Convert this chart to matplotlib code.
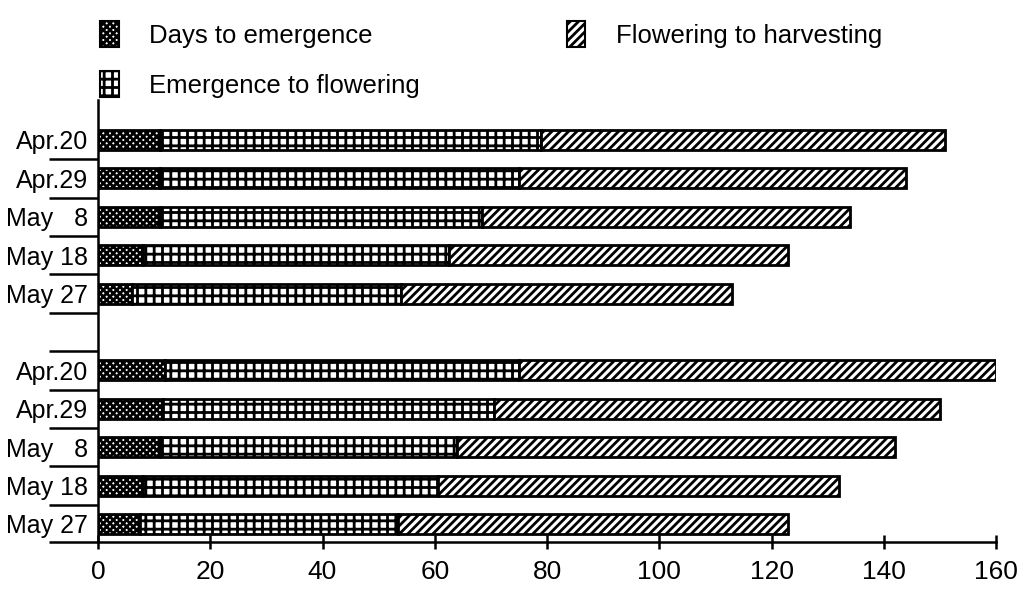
import matplotlib
matplotlib.use("Agg")
import matplotlib.pyplot as plt
from matplotlib.patches import Patch
import numpy as np

# ---- data ----
dates = ["Apr.20", "Apr.29", "May   8", "May 18", "May 27"]
# upper group
emerg_1 = [11, 11, 11, 8, 6]
flower_end_1 = [79, 75, 68.5, 62.5, 54]
total_1 = [151, 144, 134, 123, 113]
# lower group
emerg_2 = [12, 11.5, 11, 8, 7.5]
flower_end_2 = [75, 70.5, 64, 60.5, 53.5]
total_2 = [160, 150, 142, 132, 123]

series_labels = ["Days to emergence", "Emergence to flowering", "Flowering to harvesting"]
xticks = [0, 20, 40, 60, 80, 100, 120, 140, 160]

# ---- font ----
plt.rcParams["font.family"] = ["Liberation Sans", "DejaVu Sans"]
plt.rcParams["hatch.linewidth"] = 2.0

fig = plt.figure(figsize=(10.19, 5.94), dpi=100)
ax = fig.add_axes([98 / 1019, 1 - 542 / 594, (996 - 98) / 1019, (542 - 100) / 594])

emerg = np.array(emerg_1 + emerg_2, dtype=float)
fend = np.array(flower_end_1 + flower_end_2, dtype=float)
tot = np.array(total_1 + total_2, dtype=float)
ypos = np.array([0, 1, 2, 3, 4, 6, 7, 8, 9, 10], dtype=float)
labels = dates + dates

h = 0.52
hatches = ["xxxxx", "++", "////"]
ax.barh(ypos, emerg, height=h, color="white", edgecolor="black", linewidth=2, hatch=hatches[0])
ax.barh(ypos, fend - emerg, left=emerg, height=h, color="white", edgecolor="black", linewidth=2, hatch=hatches[1])
ax.barh(ypos, tot - fend, left=fend, height=h, color="white", edgecolor="black", linewidth=2, hatch=hatches[2])

ylim_bottom = 10.47
ax.set_xlim(0, 160)
ax.set_ylim(ylim_bottom, -1.04)
ax.set_xticks(xticks)
ax.set_xticklabels([str(v) for v in xticks], fontsize=19)
ax.tick_params(axis="x", direction="inout", length=10, width=1.8, pad=8)
ax.set_yticks(ypos)
ax.set_yticklabels(labels, fontsize=18)
ax.tick_params(axis="y", which="major", length=0, pad=7)
ax.set_yticks(np.array([0.5, 1.5, 2.5, 3.5, 4.5, 5.5, 6.5, 7.5, 8.5, 9.5, ylim_bottom - 0.01]), minor=True)
ax.tick_params(axis="y", which="minor", length=35, width=1.8, direction="out")

for s in ["top", "right"]:
    ax.spines[s].set_visible(False)
ax.spines["left"].set_linewidth(1.8)
ax.spines["bottom"].set_linewidth(1.8)

handles = [Patch(facecolor="white", edgecolor="black", hatch=hh, linewidth=1.5) for hh in hatches]
fig.legend(handles, series_labels, ncol=2, loc="upper left",
           bbox_to_anchor=(100 / 1019, 0.965), frameon=False, fontsize=18.5,
           handlelength=0.72, handleheight=1.2, handletextpad=1.2,
           columnspacing=5.7, labelspacing=0.9, borderpad=0, borderaxespad=0)

fig.savefig("out.png", dpi=100)
